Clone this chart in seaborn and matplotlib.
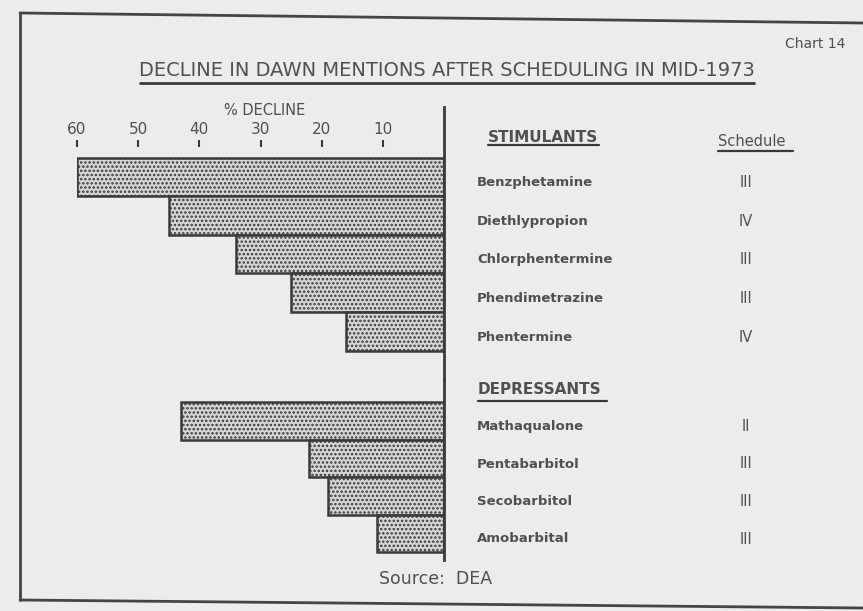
import numpy as np
import pandas as pd
import matplotlib
matplotlib.use("Agg")
import matplotlib.pyplot as plt
import matplotlib.transforms as mtrans
from matplotlib.lines import Line2D
import seaborn as sns

# data
stim_drugs = ["Benzphetamine", "Diethlypropion", "Chlorphentermine", "Phendimetrazine", "Phentermine"]
stim_decline = [60, 45, 34, 25, 16]
stim_schedule = ["III", "IV", "III", "III", "IV"]

dep_drugs = ["Mathaqualone", "Pentabarbitol", "Secobarbitol", "Amobarbital"]
dep_decline = [43, 22, 19, 11]
dep_schedule = ["II", "III", "III", "III"]

ticks = [60, 50, 40, 30, 20, 10]

stim = pd.DataFrame({"drug": stim_drugs, "decline": stim_decline})
dep = pd.DataFrame({"drug": dep_drugs, "decline": dep_decline})

sns.set_style("white")
plt.rcParams["font.family"] = ["DejaVu Sans"]
plt.rcParams["hatch.linewidth"] = 1.2

W, H = 863, 611
BG = "#ececec"
INK = "#3a3a3a"
TXT = "#505050"

fig = plt.figure(figsize=(W / 100, H / 100), dpi=100, facecolor=BG)


def fx(x):
    return x / W


def fy(y):
    return 1 - y / H


def add_axes(top, bottom):
    ax = fig.add_axes([fx(77), fy(bottom), fx(444) - fx(77), (bottom - top) / H])
    ax.set_facecolor("none")
    return ax


ax1 = add_axes(107, 380)
ax2 = add_axes(380, 560)

bar_kw = dict(orient="h", color="#d6d6d6", saturation=1, width=1.0,
              edgecolor=INK, linewidth=1.8, hatch="....")
sns.barplot(data=stim, x="decline", y="drug", ax=ax1, **bar_kw)
sns.barplot(data=dep, x="decline", y="drug", ax=ax2, **bar_kw)

ax1.set_ylim(5.26, -1.81)
ax2.set_ylim(3.71, -1.09)

for ax in (ax1, ax2):
    ax.set_xlim(60, 0)
    ax.set_xlabel("")
    ax.set_ylabel("")
    ax.set_xticks([])
    ax.set_yticks([])
    for s in ("top", "bottom", "left"):
        ax.spines[s].set_visible(False)
    ax.spines["right"].set_color(INK)
    ax.spines["right"].set_linewidth(2)

# floating tick row above the bars
sec = ax1.secondary_xaxis((380 - 147) / 273)
sec.set_xticks(ticks)
sec.set_xticklabels([str(t) for t in ticks])
sec.xaxis.set_ticks_position("top")
sec.tick_params(axis="x", direction="out", length=5, width=1.5, color=INK,
                labelsize=11, labelcolor=TXT, pad=2)
for s in sec.spines.values():
    s.set_visible(False)

fig.text(fx(265), fy(110), "% DECLINE", ha="center", va="center", fontsize=10.5, color=TXT)

# drug names and schedules
for ax, drugs, sched in ((ax1, stim_drugs, stim_schedule), (ax2, dep_drugs, dep_schedule)):
    tr = mtrans.blended_transform_factory(fig.transFigure, ax.transData)
    for i, (d, s) in enumerate(zip(drugs, sched)):
        ax.text(fx(477), i + 0.15, d, transform=tr, ha="left", va="center",
                fontsize=9.5, color=TXT, fontweight="bold", clip_on=False)
        ax.text(fx(746), i + 0.15, s, transform=tr, ha="center", va="center",
                fontsize=10.5, color=TXT, clip_on=False)


def underlined(x, y, s, size, ha="left", x0=None, x1=None, uy=None, lw=1.6, weight="normal"):
    fig.text(fx(x), fy(y), s, ha=ha, va="center", fontsize=size, color=TXT, fontweight=weight)
    if x0 is not None:
        fig.add_artist(Line2D([fx(x0), fx(x1)], [fy(uy), fy(uy)], color=INK, lw=lw))


underlined(447, 71, "DECLINE IN DAWN MENTIONS AFTER SCHEDULING IN MID-1973", 14,
           ha="center", x0=140, x1=754, uy=83, lw=2)
underlined(488, 137, "STIMULANTS", 11, x0=488, x1=599, uy=145, weight="bold")
underlined(718, 141, "Schedule", 10.5, x0=718, x1=793, uy=151)
underlined(478, 390, "DEPRESSANTS", 11, x0=478, x1=607, uy=401, weight="bold")

fig.text(fx(845), fy(44), "Chart 14", ha="right", va="center", fontsize=10, color=TXT)
fig.text(fx(436), fy(579), "Source:  DEA", ha="center", va="center", fontsize=12.5, color=TXT)

# page frame
for xs, ys in (([20, 20], [13, 600]), ([20, 863], [13, 23]), ([20, 863], [600, 608])):
    fig.add_artist(Line2D([fx(v) for v in xs], [fy(v) for v in ys], color="#444444", lw=2))

fig.savefig("out.png", dpi=100, facecolor=BG)
